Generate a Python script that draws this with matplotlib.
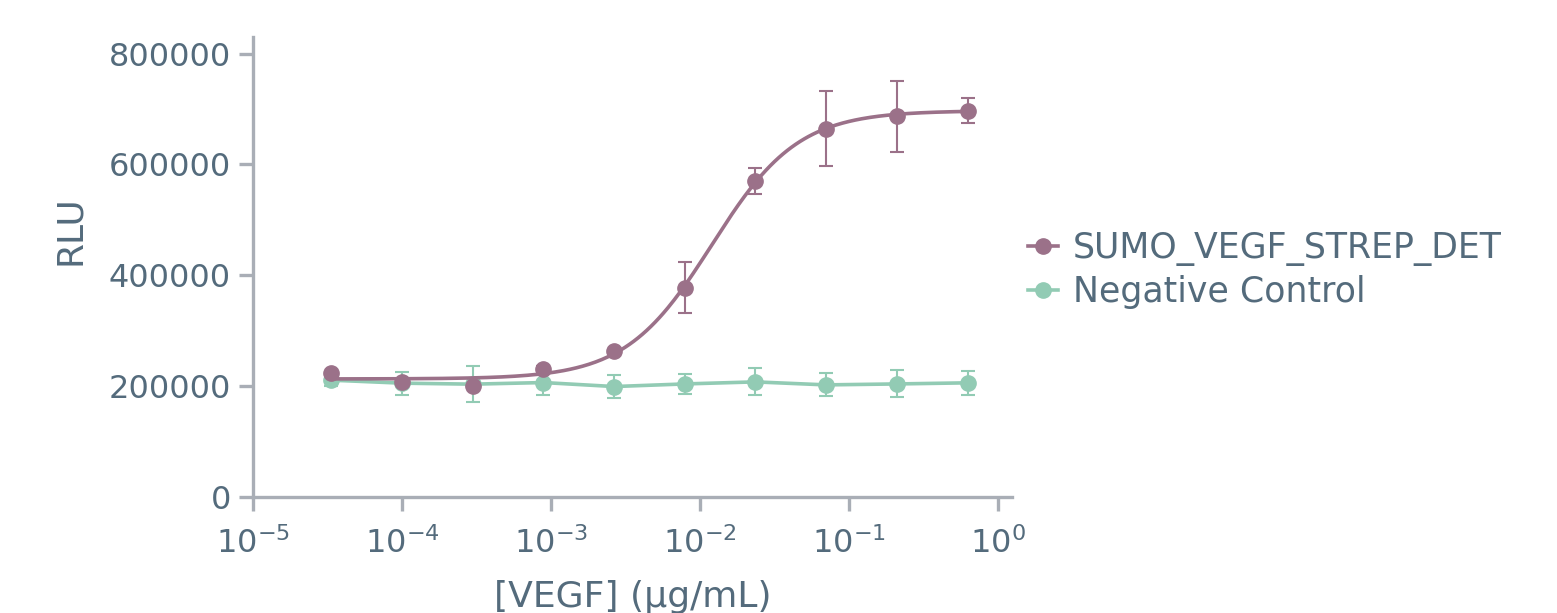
import numpy as np
import matplotlib
matplotlib.use("Agg")
import matplotlib.pyplot as plt
from matplotlib.lines import Line2D
from matplotlib.ticker import FixedLocator, FuncFormatter, NullLocator

# ---------- data ----------
conc = [3.36e-5, 1.0e-4, 2.98e-4, 8.9e-4, 2.65e-3, 7.9e-3, 2.35e-2, 7.0e-2, 0.209, 0.63]
sumo = [223400, 207700, 200000, 231700, 263600, 377700, 569900, 664900, 687000, 697300]
sumo_err = [4000, 4000, 4000, 4000, 4000, 45600, 24000, 67600, 64000, 22500]
neg = [210800, 205400, 203600, 206500, 199300, 204000, 207700, 202300, 204000, 206000]
neg_err = [9700, 21000, 33000, 22700, 20000, 18000, 24300, 20700, 24300, 21600]
# 4-parameter logistic fit drawn through the SUMO points
fit_bottom, fit_top, fit_ec50, fit_hill = 213000, 697000, 0.012, 1.5
series_names = ["SUMO_VEGF_STREP_DET", "Negative Control"]

PURPLE, GREEN = "#9b7189", "#92cbb4"
TXT, AXC = "#546b7c", "#a9aeb6"
plt.rcParams["font.family"] = ["DejaVu Sans"]

fig = plt.figure(figsize=(15.57, 6.13), dpi=100)
ax = fig.add_axes([253 / 1557, 1 - 497 / 613, (1012 - 253) / 1557, (497 - 37) / 613])

xx = np.logspace(np.log10(conc[0]), np.log10(conc[-1]), 300)
yy = fit_bottom + (fit_top - fit_bottom) / (1 + (fit_ec50 / xx) ** fit_hill)

ax.errorbar(conc, neg, yerr=neg_err, fmt="o-", c=GREEN, ms=11, lw=2.6,
            elinewidth=1.5, capsize=5, capthick=1.5, zorder=2)
ax.plot(xx, yy, c=PURPLE, lw=2.6, zorder=3)
ax.errorbar(conc, sumo, yerr=sumo_err, fmt="o", c=PURPLE, ms=11,
            elinewidth=1.5, capsize=5, capthick=1.5, zorder=4)

ax.set_xscale("log")
ax.set_xlim(1e-5, 1.24)
ax.set_ylim(0, 830000)
ax.xaxis.set_major_locator(FixedLocator([1e-5, 1e-4, 1e-3, 1e-2, 1e-1, 1e0]))
ax.xaxis.set_minor_locator(NullLocator())
ax.xaxis.set_major_formatter(FuncFormatter(lambda v, p: r"$\mathregular{10^{%d}}$" % round(np.log10(v))))
ax.set_yticks([0, 200000, 400000, 600000, 800000])
ax.yaxis.set_major_formatter(FuncFormatter(lambda v, p: f"{int(v)}"))

for s in ("top", "right"):
    ax.spines[s].set_visible(False)
for s in ("left", "bottom"):
    ax.spines[s].set_color(AXC)
    ax.spines[s].set_linewidth(2.4)
ax.tick_params(axis="both", colors=AXC, width=2.4, length=10, labelcolor=TXT, labelsize=23)
ax.tick_params(axis="x", pad=12)
ax.tick_params(axis="y", pad=6)

ax.set_xlabel("[VEGF] (μg/mL)", fontsize=26, color=TXT)
ax.xaxis.set_label_coords(0.5, -0.18)
ax.xaxis.label.set_va("top")
ax.set_ylabel("RLU", fontsize=26, color=TXT)
ax.yaxis.set_label_coords(-0.241, 0.58)
ax.yaxis.label.set_va("center")

handles = [Line2D([], [], c=PURPLE, marker="o", ms=11, lw=2.6),
           Line2D([], [], c=GREEN, marker="o", ms=11, lw=2.6)]
leg = fig.legend(handles, series_names, loc="center left", frameon=False,
                 bbox_to_anchor=(1028 / 1557, 1 - 270 / 613), fontsize=25,
                 borderpad=0, borderaxespad=0,
                 handlelength=0.86, handletextpad=0.43, labelspacing=0.26)
for t in leg.get_texts():
    t.set_color(TXT)

fig.savefig("out.png", dpi=100)
